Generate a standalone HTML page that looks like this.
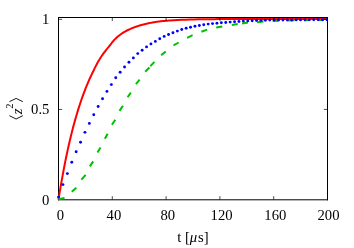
<!DOCTYPE html>
<html><head><meta charset="utf-8"><title>plot</title>
<style>
html,body{margin:0;padding:0;background:#fff;}
svg{display:block;will-change:transform;}
text{font-family:"Liberation Serif",serif;font-size:14.67px;fill:#000;}
</style></head><body>
<svg width="354" height="248" viewBox="0 0 354 248">
<rect width="354" height="248" fill="#fff"/>
<g stroke="#000" stroke-width="1" fill="none"><line x1="58.5" y1="17" x2="58.5" y2="200.3"/><line x1="58" y1="17.5" x2="328" y2="17.5"/><line x1="327.5" y1="17" x2="327.5" y2="200.3"/><line x1="58" y1="199.8" x2="328" y2="199.8"/></g>
<path d="M58.5,199.60 L59.5,193.40 L60.5,187.42 L61.5,181.64 L62.5,176.06 L63.5,170.66 L64.5,165.46 L65.5,160.42 L66.5,155.56 L67.5,150.87 L68.5,146.34 L69.5,141.95 L70.5,137.72 L71.5,133.63 L72.5,129.68 L73.5,125.87 L74.5,122.18 L75.5,118.62 L76.5,115.17 L77.5,111.84 L78.5,108.61 L79.5,105.48 L80.5,102.45 L81.5,99.52 L82.5,96.68 L83.5,93.94 L84.5,91.28 L85.5,88.71 L86.5,86.23 L87.5,83.82 L88.5,81.48 L89.5,79.22 L90.5,77.02 L91.5,74.88 L92.5,72.79 L93.5,70.72 L94.5,68.67 L95.5,66.66 L96.5,64.71 L97.5,62.84 L98.5,61.06 L99.5,59.39 L100.5,57.80 L101.5,56.28 L102.5,54.83 L103.5,53.43 L104.5,52.08 L105.5,50.77 L106.5,49.50 L107.5,48.25 L108.5,47.03 L109.5,45.80 L110.5,44.53 L111.5,43.24 L112.5,41.98 L113.5,40.78 L114.5,39.66 L115.5,38.66 L116.5,37.73 L117.5,36.85 L118.5,36.02 L119.5,35.23 L120.5,34.48 L121.5,33.76 L122.5,33.09 L123.5,32.46 L124.5,31.86 L125.5,31.29 L126.5,30.75 L127.5,30.24 L128.5,29.75 L129.5,29.29 L130.5,28.84 L131.5,28.42 L132.5,28.01 L133.5,27.61 L134.5,27.23 L135.5,26.87 L136.5,26.52 L137.5,26.18 L138.5,25.86 L139.5,25.56 L140.5,25.26 L141.5,24.98 L142.5,24.70 L143.5,24.44 L144.5,24.19 L145.5,23.95 L146.5,23.72 L147.5,23.49 L148.5,23.28 L149.5,23.07 L150.5,22.87 L151.5,22.68 L152.5,22.50 L153.5,22.33 L154.5,22.16 L155.5,22.01 L156.5,21.86 L157.5,21.71 L158.5,21.58 L159.5,21.45 L160.5,21.33 L161.5,21.22 L162.5,21.11 L163.5,21.01 L164.5,20.91 L165.5,20.82 L166.5,20.74 L167.5,20.66 L168.5,20.58 L169.5,20.51 L170.0,20.47 L174.0,20.21 L178.0,20.00 L182.0,19.82 L186.0,19.67 L190.0,19.55 L194.0,19.45 L198.0,19.37 L202.0,19.30 L206.0,19.24 L210.0,19.19 L214.0,19.15 L218.0,19.12 L222.0,19.09 L226.0,19.07 L230.0,19.05 L234.0,19.03 L238.0,19.02 L242.0,19.01 L246.0,19.00 L250.0,18.99 L254.0,18.98 L258.0,18.98 L262.0,18.97 L266.0,18.97 L270.0,18.97 L274.0,18.96 L278.0,18.96 L282.0,18.96 L286.0,18.96 L290.0,18.96 L294.0,18.96 L298.0,18.96 L302.0,18.95 L306.0,18.95 L310.0,18.95 L314.0,18.95 L318.0,18.95 L322.0,18.95 L326.0,18.95 L327.5,18.95" fill="none" stroke="#f00" stroke-width="2.0" stroke-linejoin="round"/>
<g stroke="#00c000" stroke-width="2.0" fill="none"><line x1="58.5" y1="199.3" x2="64.5" y2="198"/><line x1="71.8" y1="191.8" x2="76.3" y2="187.8"/><line x1="81.4" y1="179.7" x2="85.6" y2="174.8"/><line x1="89.8" y1="166.4" x2="93.2" y2="161.4"/><line x1="97.5" y1="152.5" x2="100.5" y2="147.5"/><line x1="104.9" y1="138.8" x2="107.6" y2="133.7"/><line x1="111.9" y1="124.8" x2="115.3" y2="119.7"/><line x1="119.5" y1="110.9" x2="122.9" y2="105.8"/><line x1="127.6" y1="97.3" x2="130.8" y2="92.6"/><line x1="135.9" y1="84.1" x2="139.6" y2="79.7"/><line x1="145.2" y1="71.7" x2="149.4" y2="67.5"/><line x1="150.3" y1="66.1" x2="154.5" y2="61.9"/><line x1="161.2" y1="55.1" x2="165.8" y2="51.5"/><line x1="173.5" y1="45.4" x2="178.7" y2="42.5"/><line x1="187.1" y1="37.8" x2="192.6" y2="35.1"/><line x1="201.4" y1="31.7" x2="207.2" y2="29.6"/><line x1="216.2" y1="27.6" x2="222.3" y2="26.4"/><line x1="231.8" y1="25" x2="237.7" y2="24"/><line x1="242" y1="23.5" x2="247.9" y2="22.6"/><line x1="257.1" y1="22.2" x2="263.5" y2="21.6"/><line x1="272.6" y1="21.0" x2="278.4" y2="20.7"/><line x1="288.2" y1="20.4" x2="294.5" y2="20.3"/><line x1="304.0" y1="20.2" x2="310.0" y2="20.1"/><line x1="317.8" y1="20.1" x2="324.0" y2="20.0"/></g>
<clipPath id="c"><rect x="50" y="10" width="277.3" height="195"/></clipPath><g fill="#0000ff" clip-path="url(#c)"><circle cx="58.55" cy="197.10" r="1.45"/><circle cx="62.95" cy="184.60" r="1.45"/><circle cx="67.35" cy="173.60" r="1.45"/><circle cx="71.75" cy="162.20" r="1.45"/><circle cx="76.15" cy="151.75" r="1.45"/><circle cx="80.55" cy="142.20" r="1.45"/><circle cx="84.95" cy="132.35" r="1.45"/><circle cx="89.35" cy="123.40" r="1.45"/><circle cx="93.75" cy="114.80" r="1.45"/><circle cx="98.15" cy="106.50" r="1.45"/><circle cx="102.55" cy="98.70" r="1.45"/><circle cx="106.95" cy="91.40" r="1.45"/><circle cx="111.35" cy="84.60" r="1.45"/><circle cx="115.75" cy="77.70" r="1.45"/><circle cx="120.15" cy="72.30" r="1.45"/><circle cx="124.55" cy="67.00" r="1.45"/><circle cx="128.95" cy="62.30" r="1.45"/><circle cx="133.35" cy="57.90" r="1.45"/><circle cx="137.75" cy="53.60" r="1.45"/><circle cx="142.15" cy="50.25" r="1.45"/><circle cx="146.55" cy="46.90" r="1.45"/><circle cx="150.95" cy="43.90" r="1.45"/><circle cx="155.35" cy="41.40" r="1.45"/><circle cx="159.75" cy="38.80" r="1.45"/><circle cx="164.15" cy="36.40" r="1.45"/><circle cx="168.55" cy="34.50" r="1.45"/><circle cx="172.95" cy="32.75" r="1.45"/><circle cx="177.35" cy="31.10" r="1.45"/><circle cx="181.75" cy="29.50" r="1.45"/><circle cx="186.15" cy="28.30" r="1.45"/><circle cx="190.55" cy="27.30" r="1.45"/><circle cx="194.95" cy="26.30" r="1.45"/><circle cx="199.35" cy="25.50" r="1.45"/><circle cx="203.75" cy="24.80" r="1.45"/><circle cx="208.15" cy="24.10" r="1.45"/><circle cx="212.55" cy="23.60" r="1.45"/><circle cx="216.95" cy="23.20" r="1.45"/><circle cx="221.35" cy="22.80" r="1.45"/><circle cx="225.75" cy="22.50" r="1.45"/><circle cx="230.15" cy="22.10" r="1.45"/><circle cx="234.55" cy="21.80" r="1.45"/><circle cx="238.95" cy="21.50" r="1.45"/><circle cx="243.35" cy="21.10" r="1.45"/><circle cx="247.75" cy="20.90" r="1.45"/><circle cx="252.15" cy="20.70" r="1.45"/><circle cx="256.55" cy="20.55" r="1.45"/><circle cx="260.95" cy="20.40" r="1.45"/><circle cx="265.35" cy="20.30" r="1.45"/><circle cx="269.75" cy="20.10" r="1.45"/><circle cx="274.15" cy="20.05" r="1.45"/><circle cx="278.55" cy="20.00" r="1.45"/><circle cx="282.95" cy="20.00" r="1.45"/><circle cx="287.35" cy="19.95" r="1.45"/><circle cx="291.75" cy="19.95" r="1.45"/><circle cx="296.15" cy="19.90" r="1.45"/><circle cx="300.55" cy="19.90" r="1.45"/><circle cx="304.95" cy="19.85" r="1.45"/><circle cx="309.35" cy="19.85" r="1.45"/><circle cx="313.75" cy="19.80" r="1.45"/><circle cx="318.15" cy="19.80" r="1.45"/><circle cx="322.55" cy="19.80" r="1.45"/><circle cx="326.95" cy="19.80" r="1.45"/></g>
<g stroke="#000" stroke-width="0.7" fill="none"><line x1="112.30" y1="199.6" x2="112.30" y2="196.2"/><line x1="112.30" y1="17.5" x2="112.30" y2="21"/><line x1="166.10" y1="199.6" x2="166.10" y2="196.2"/><line x1="166.10" y1="17.5" x2="166.10" y2="21"/><line x1="219.90" y1="199.6" x2="219.90" y2="196.2"/><line x1="219.90" y1="17.5" x2="219.90" y2="21"/><line x1="273.70" y1="199.6" x2="273.70" y2="196.2"/><line x1="273.70" y1="17.5" x2="273.70" y2="21"/><line x1="58.5" y1="109.45" x2="62.2" y2="109.45"/><line x1="327.5" y1="109.45" x2="323.8" y2="109.45"/><line x1="58.5" y1="19.3" x2="62.2" y2="19.3"/><line x1="327.5" y1="19.3" x2="323.8" y2="19.3"/><line x1="327.5" y1="17" x2="327.5" y2="30" stroke-width="1"/></g>
<text x="60.40" y="220.3" text-anchor="middle">0</text><text x="113.90" y="220.3" text-anchor="middle">40</text><text x="167.80" y="220.3" text-anchor="middle">80</text><text x="221.60" y="220.3" text-anchor="middle">120</text><text x="275.30" y="220.3" text-anchor="middle">160</text><text x="328.50" y="220.3" text-anchor="middle">200</text>
<text x="49.4" y="204.50" text-anchor="end">0</text><text x="49.4" y="114.35" text-anchor="end">0.5</text><text x="49.4" y="24.20" text-anchor="end">1</text>
<text x="192.9" y="242.3" text-anchor="middle">t [<tspan font-style="italic">μ</tspan><tspan dx="0.9">s]</tspan></text>
<g transform="translate(0,0)">
<polyline points="9.4,115.7 16.1,119.0 22.8,115.7" fill="none" stroke="#000" stroke-width="0.9"/>
<polyline points="9.4,101.7 16.1,98.4 22.8,101.7" fill="none" stroke="#000" stroke-width="0.9"/>
<text transform="translate(21.8,114.2) rotate(-90)" font-style="italic">z</text>
<text transform="translate(12.6,108.8) rotate(-90)" style="font-size:10.5px">2</text>
</g>
</svg>
</body></html>
